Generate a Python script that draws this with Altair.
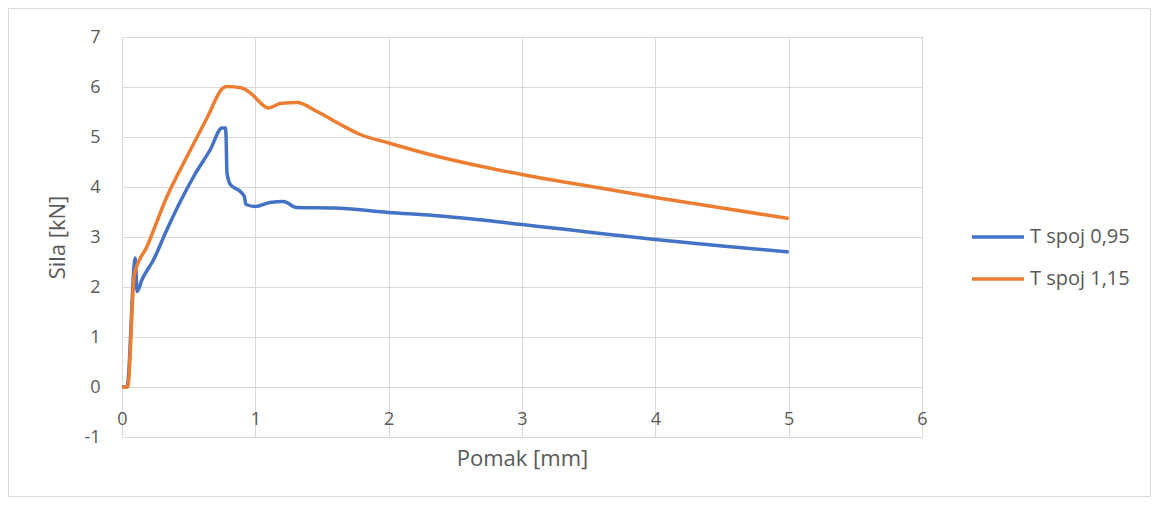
import altair as alt
import pandas as pd

series_names = ["T spoj 0,95", "T spoj 1,15"]
colors = ["#4472C4", "#ED7D31"]

x_095 = [0, 0.0375, 0.1, 0.1125, 0.15, 0.2375, 0.3375, 0.4375, 0.5375, 0.6625, 0.75, 0.775,
         0.78, 0.7875, 0.8125, 0.8875, 0.9175, 0.93, 1.0, 1.11, 1.21, 1.31, 1.59, 2.0, 2.338,
         2.663, 3.0, 3.338, 3.588, 4.0, 4.5, 5.0]
y_095 = [0, 0, 2.58, 1.91, 2.15, 2.55, 3.15, 3.71, 4.21, 4.75, 5.18, 5.18,
         5.05, 4.28, 4.05, 3.91, 3.81, 3.65, 3.61, 3.69, 3.71, 3.59, 3.58, 3.49, 3.43,
         3.35, 3.25, 3.15, 3.07, 2.95, 2.82, 2.70]

x_115 = [0, 0.0425, 0.0925, 0.1875, 0.3375, 0.4875, 0.6375, 0.7575, 0.7875, 0.9, 0.9625, 1.1,
         1.1875, 1.3125, 1.4625, 1.6375, 1.7875, 2.0, 2.338, 2.663, 3.0, 3.338, 3.588, 4.0,
         4.5, 5.0]
y_115 = [0, 0, 2.25, 2.81, 3.81, 4.61, 5.38, 5.98, 6.01, 5.98, 5.88, 5.58,
         5.67, 5.69, 5.51, 5.25, 5.05, 4.88, 4.63, 4.43, 4.25, 4.09, 3.98, 3.79,
         3.58, 3.37]

rows = []
for name, xs, ys in [(series_names[0], x_095, y_095), (series_names[1], x_115, y_115)]:
    for i, (a, b) in enumerate(zip(xs, ys)):
        rows.append({"Serija": name, "Pomak": a, "Sila": b, "i": i})
df = pd.DataFrame(rows)

FONT = "Open Sans"
W, H = 800, 400
PL, PT = 114, 29
TW, TH = 1143, 489

frame = alt.Chart(pd.DataFrame({"k": [0]})).mark_rect(
    fill="white", fillOpacity=0, stroke="#d9d9d9", strokeWidth=1, clip=False
).encode(
    x=alt.value(0.5 - PL), x2=alt.value(TW - 0.5 - PL),
    y=alt.value(0.5 - PT), y2=alt.value(TH - 0.5 - PT)
)

lines = alt.Chart(df).mark_line(strokeWidth=3.5, interpolate="monotone").encode(
    x=alt.X("Pomak:Q", title="Pomak [mm]",
            scale=alt.Scale(domain=[0, 6], nice=False, zero=False),
            axis=alt.Axis(values=[0, 1, 2, 3, 4, 5, 6], grid=True, gridColor="#d9d9d9",
                          domain=False, ticks=False, labelBaseline="middle", labelPadding=-18,
                          labelFlush=False,
                          labelFontSize=18, labelColor="#595959", labelFont=FONT,
                          titleFont=FONT, titleFontSize=22, titleFontWeight="normal",
                          titleColor="#595959", titlePadding=11)),
    y=alt.Y("Sila:Q", title="Sila [kN]",
            scale=alt.Scale(domain=[-1, 7], nice=False, zero=False),
            axis=alt.Axis(values=[-1, 0, 1, 2, 3, 4, 5, 6, 7], grid=True, gridColor="#d9d9d9",
                          domain=False, ticks=False, labelPadding=22,
                          labelExpr="toString(datum.value)",
                          labelFontSize=18, labelColor="#595959", labelFont=FONT,
                          titleFont=FONT, titleFontSize=22, titleFontWeight="normal",
                          titleColor="#595959", titlePadding=14)),
    color=alt.Color("Serija:N", scale=alt.Scale(domain=series_names, range=colors),
                    legend=alt.Legend(title=None, orient="none", legendX=848, legendY=172,
                                      symbolType="stroke", symbolSize=2704,
                                      symbolStrokeWidth=3.5, labelFontSize=20,
                                      labelFont=FONT, labelColor="#595959",
                                      rowPadding=4, labelOffset=4)),
    order="i:Q",
)

chart = alt.layer(lines, frame).properties(
    width=W, height=H,
    autosize=alt.AutoSizeParams(type="none"),
    padding={"left": PL, "top": PT, "right": TW - PL - W, "bottom": TH - PT - H},
).configure_view(stroke="#d9d9d9")

chart.save("out.html", embed_options={"renderer": "svg", "actions": False})
